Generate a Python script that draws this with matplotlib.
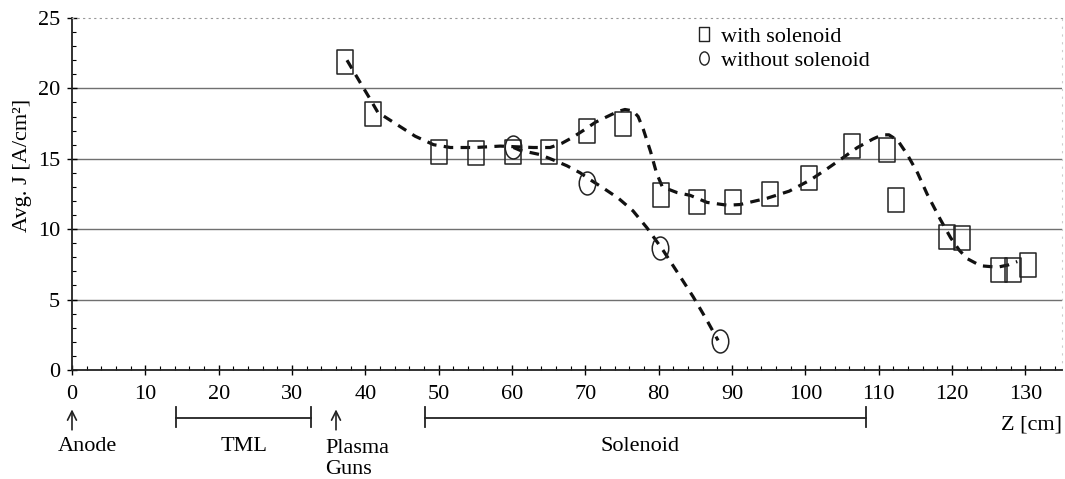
import matplotlib
matplotlib.use("Agg")
import matplotlib.pyplot as plt
from matplotlib.lines import Line2D
from matplotlib.path import Path
from matplotlib.transforms import Affine2D

plt.rcParams['font.family'] = ['Liberation Serif', 'DejaVu Serif']
plt.rcParams['font.size'] = 16

# measured points
z_with = [37.2, 41.1, 50.1, 55.1, 60.2, 65.1, 70.2, 75.2, 80.3, 85.2, 90.2, 95.2,
          100.5, 106.3, 111.2, 112.3, 119.3, 121.4, 126.4, 128.3, 130.3]
j_with = [21.9, 18.2, 15.5, 15.4, 15.45, 15.5, 17.0, 17.5, 12.4, 11.9, 11.95, 12.5,
          13.65, 15.9, 15.6, 12.1, 9.45, 9.35, 7.1, 7.1, 7.45]
z_without = [60.2, 70.2, 80.2, 88.3]
j_without = [15.85, 13.25, 8.65, 2.05]

# dashed guide curves
fit_with_z = [37.5, 39.2, 40.7, 41.7, 43.2, 44.7, 46.8, 49.3, 51.6, 55.0, 58.4, 62.9,
              65.2, 66.8, 68.2, 69.7, 71.4, 73.0, 74.4, 75.4, 76.5, 77.2, 77.9, 78.9,
              79.7, 80.5, 82.5, 84.3, 86.6, 89.4, 91.1, 94.8, 97.8, 100.7, 103.0, 105.2,
              107.1, 109.2, 110.5, 111.4, 112.6, 113.9, 115.3, 116.6, 118.4, 119.8,
              121.0, 122.1, 123.9, 126.2, 127.6, 128.9]
fit_with_j = [22.0, 20.5, 19.2, 18.3, 17.8, 17.3, 16.6, 16.0, 15.8, 15.8, 15.9, 15.8,
              15.8, 16.1, 16.5, 17.0, 17.6, 18.0, 18.35, 18.5, 18.4, 18.0, 17.1, 15.5,
              14.0, 13.0, 12.6, 12.4, 11.9, 11.7, 11.75, 12.2, 12.7, 13.5, 14.3, 15.1,
              15.8, 16.4, 16.7, 16.7, 16.3, 15.3, 14.0, 12.5, 10.7, 9.4, 8.5, 7.9,
              7.4, 7.3, 7.45, 7.7]
fit_without_z = [60.2, 61.1, 63.8, 65.7, 67.5, 69.3, 70.7, 72.5, 74.5, 76.5, 78.4,
                 80.6, 82.6, 84.7, 86.5, 88.1]
fit_without_j = [15.8, 15.6, 15.3, 14.9, 14.5, 14.0, 13.5, 12.9, 12.2, 11.3, 10.1,
                 8.5, 6.9, 5.2, 3.6, 2.1]

grid_levels = [5, 10, 15, 20]
arrow_marks = [("Anode", 0.0), ("Plasma\nGuns", 36.0)]
regions = [("TML", 14.2, 32.6), ("Solenoid", 48.2, 108.3)]

rect = Path([(-0.667, -1), (0.667, -1), (0.667, 1), (-0.667, 1), (-0.667, -1)],
            [Path.MOVETO, Path.LINETO, Path.LINETO, Path.LINETO, Path.CLOSEPOLY])
oval = Affine2D().scale(0.72, 1.0).transform_path(Path.unit_circle())

fig = plt.figure(figsize=(10.65, 4.79), dpi=100)
ax = fig.add_axes([0.0676, 0.2276, 0.9296, 0.7349])

ax.hlines(grid_levels, 0, 135, color='#707070', lw=1.0, zorder=1)

dash = (0, (3.0, 2.3))
ax.plot(fit_with_z, fit_with_j, color='#111111', lw=2.3, linestyle=dash, zorder=3)
ax.plot(fit_without_z, fit_without_j, color='#111111', lw=2.3, linestyle=dash, zorder=3)
ax.plot(z_with, j_with, ls='none', marker=rect, ms=17.5, mfc='none', mec='#222222',
        mew=1.1, zorder=4)
ax.plot(z_without, j_without, ls='none', marker=oval, ms=16.5, mfc='none',
        mec='#222222', mew=1.1, zorder=4)

ax.set_xlim(0, 135)
ax.set_ylim(0, 25)
ax.set_xticks(range(0, 131, 10))
ax.set_xticks(range(0, 135, 2), minor=True)
ax.set_yticks(range(0, 26, 5))
ax.set_yticks(range(0, 26, 1), minor=True)
ax.tick_params(which='major', direction='inout', length=7, width=1)
ax.tick_params(which='minor', direction='in', length=3, width=0.8)
ax.tick_params(axis='x', which='major', pad=7)
ax.tick_params(axis='y', which='major', pad=5)
ax.tick_params(axis='both', labelsize=16)

for s in ['left', 'bottom']:
    ax.spines[s].set_linewidth(1.3)
    ax.spines[s].set_color('#222222')
ax.spines['top'].set_linestyle((0, (1, 4)))
ax.spines['top'].set_color('#999999')
ax.spines['right'].set_linestyle((0, (1, 6)))
ax.spines['right'].set_color('#cccccc')

ax.set_ylabel("Avg. J [A/cm²]", fontsize=16)
ax.yaxis.set_label_coords(-0.04, 0.58)

legend_handles = [
    Line2D([], [], ls='none', marker=rect, ms=10, mfc='none', mec='#222222', mew=1.0),
    Line2D([], [], ls='none', marker=oval, ms=9.5, mfc='none', mec='#222222', mew=1.0),
]
ax.legend(legend_handles, ["with solenoid", "without solenoid"], loc='upper left',
          bbox_to_anchor=(0.62, 1.008), frameon=False, fontsize=16, handlelength=0.6,
          handletextpad=0.5, labelspacing=0.15, borderaxespad=0.1)

tr = ax.get_xaxis_transform()
for name, z in arrow_marks:
    ax.annotate("", xy=(z, -0.112), xytext=(z, -0.17), xycoords=tr, textcoords=tr,
                arrowprops=dict(arrowstyle='->', lw=1.2, color='#222222',
                                shrinkA=0, shrinkB=0), annotation_clip=False)
ax.text(arrow_marks[0][1] + 2.1, -0.218, arrow_marks[0][0], transform=tr,
        ha='center', va='center')
ax.text(arrow_marks[1][1] - 1.5, -0.252, arrow_marks[1][0], transform=tr, ha='left',
        va='center', linespacing=1.12)

for name, z0, z1 in regions:
    ax.plot([z0, z1], [-0.136, -0.136], transform=tr, color='#222222', lw=1.3,
            clip_on=False)
    for z in (z0, z1):
        ax.plot([z, z], [-0.105, -0.162], transform=tr, color='#222222', lw=1.3,
                clip_on=False)
    mid = (z0 + z1) / 2 - (0.8 if name == "Solenoid" else 0.0)
    ax.text(mid, -0.218, name, transform=tr, ha='center', va='center')
ax.text(1.0, -0.156, "Z [cm]", transform=ax.transAxes, ha='right', va='center')

fig.savefig("out.png", dpi=100)
